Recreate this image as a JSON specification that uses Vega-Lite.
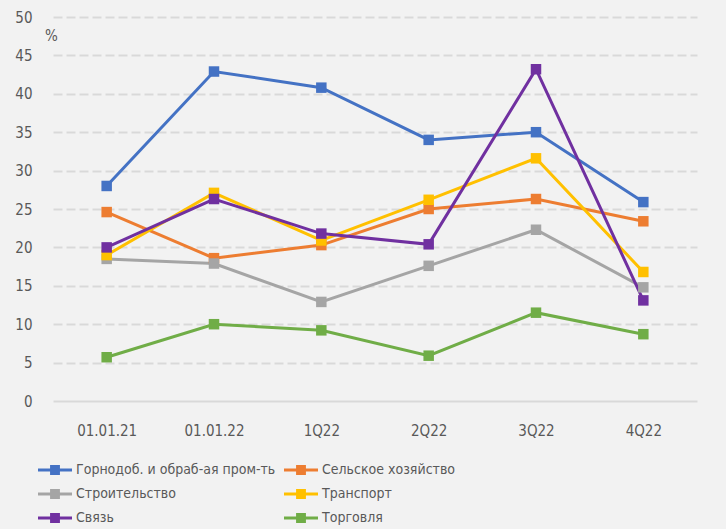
{
  "$schema": "https://vega.github.io/schema/vega-lite/v6.json",
  "width": 644,
  "height": 384,
  "autosize": {"type": "none"},
  "padding": {"left": 53, "top": 17, "right": 29, "bottom": 128},
  "background": "#f2f2f2",
  "config": {
    "view": {"stroke": null},
    "font": "DejaVu Sans Condensed",
    "axis": {"labelFont": "DejaVu Sans Condensed", "labelColor": "#595959", "labelFontSize": 15, "titleFont": "DejaVu Sans Condensed"},
    "legend": {"labelFont": "DejaVu Sans Condensed", "labelColor": "#595959", "labelFontSize": 14}
  },
  "data": {
    "values": [
      {"period": "01.01.21", "series": "Горнодоб. и обраб-ая пром-ть", "value": 28.0},
      {"period": "01.01.22", "series": "Горнодоб. и обраб-ая пром-ть", "value": 42.9},
      {"period": "1Q22", "series": "Горнодоб. и обраб-ая пром-ть", "value": 40.8},
      {"period": "2Q22", "series": "Горнодоб. и обраб-ая пром-ть", "value": 34.0},
      {"period": "3Q22", "series": "Горнодоб. и обраб-ая пром-ть", "value": 35.0},
      {"period": "4Q22", "series": "Горнодоб. и обраб-ая пром-ть", "value": 25.9},
      {"period": "01.01.21", "series": "Сельское хозяйство", "value": 24.6},
      {"period": "01.01.22", "series": "Сельское хозяйство", "value": 18.6},
      {"period": "1Q22", "series": "Сельское хозяйство", "value": 20.3},
      {"period": "2Q22", "series": "Сельское хозяйство", "value": 25.0},
      {"period": "3Q22", "series": "Сельское хозяйство", "value": 26.3},
      {"period": "4Q22", "series": "Сельское хозяйство", "value": 23.4},
      {"period": "01.01.21", "series": "Строительство", "value": 18.5},
      {"period": "01.01.22", "series": "Строительство", "value": 17.9},
      {"period": "1Q22", "series": "Строительство", "value": 12.9},
      {"period": "2Q22", "series": "Строительство", "value": 17.6},
      {"period": "3Q22", "series": "Строительство", "value": 22.3},
      {"period": "4Q22", "series": "Строительство", "value": 14.8},
      {"period": "01.01.21", "series": "Транспорт", "value": 19.0},
      {"period": "01.01.22", "series": "Транспорт", "value": 27.1},
      {"period": "1Q22", "series": "Транспорт", "value": 20.9},
      {"period": "2Q22", "series": "Транспорт", "value": 26.2},
      {"period": "3Q22", "series": "Транспорт", "value": 31.6},
      {"period": "4Q22", "series": "Транспорт", "value": 16.8},
      {"period": "01.01.21", "series": "Связь", "value": 20.0},
      {"period": "01.01.22", "series": "Связь", "value": 26.3},
      {"period": "1Q22", "series": "Связь", "value": 21.8},
      {"period": "2Q22", "series": "Связь", "value": 20.4},
      {"period": "3Q22", "series": "Связь", "value": 43.2},
      {"period": "4Q22", "series": "Связь", "value": 13.1},
      {"period": "01.01.21", "series": "Торговля", "value": 5.7},
      {"period": "01.01.22", "series": "Торговля", "value": 10.0},
      {"period": "1Q22", "series": "Торговля", "value": 9.2},
      {"period": "2Q22", "series": "Торговля", "value": 5.9},
      {"period": "3Q22", "series": "Торговля", "value": 11.5},
      {"period": "4Q22", "series": "Торговля", "value": 8.7}
    ]
  },
  "encoding": {
    "x": {
      "field": "period", "type": "nominal", "sort": null,
      "scale": {"paddingInner": 0, "paddingOuter": 0},
      "axis": {"title": null, "labelAngle": 0, "ticks": false, "domain": false, "labelPadding": 22}
    },
    "y": {
      "field": "value", "type": "quantitative",
      "scale": {"domain": [0, 50], "nice": false},
      "axis": {
        "title": "%", "titleAngle": 0, "titleX": -2, "titleY": 26, "titleAlign": "center", "titleFontWeight": "normal", "titleFontSize": 15, "titleColor": "#595959",
        "values": [0, 5, 10, 15, 20, 25, 30, 35, 40, 45, 50],
        "ticks": false, "domain": false, "labelPadding": 21,
        "gridColor": "#d9d9d9", "gridWidth": 2,
        "gridDash": {"condition": {"test": "datum.value === 0", "value": []}, "value": [9, 4]}
      }
    },
    "color": {
      "field": "series", "type": "nominal",
      "scale": {
        "domain": ["Горнодоб. и обраб-ая пром-ть", "Сельское хозяйство", "Строительство", "Транспорт", "Связь", "Торговля"],
        "range": ["#4472c4", "#ed7d31", "#a5a5a5", "#ffc000", "#7030a0", "#70ad47"]
      },
      "legend": {
        "title": null, "orient": "none", "legendX": -15, "legendY": 436, "columns": 2, "direction": "horizontal",
        "columnPadding": 8, "rowPadding": 0, "labelLimit": 400,
        "symbolType": "M-1,-0.09H1V0.09H-1Z M-0.29,-0.29H0.29V0.29H-0.29Z",
        "symbolSize": 1156, "symbolStrokeWidth": 0, "labelOffset": 4,
        "encode": {"symbols": {"update": {"fill": {"scale": "color", "field": "value"}, "fillOpacity": {"value": 1}, "strokeWidth": {"value": 0}}}}
      }
    }
  },
  "layer": [
    {"mark": {"type": "line", "strokeWidth": 3}},
    {"mark": {"type": "point", "shape": "square", "filled": true, "opacity": 1, "size": 110}}
  ]
}
